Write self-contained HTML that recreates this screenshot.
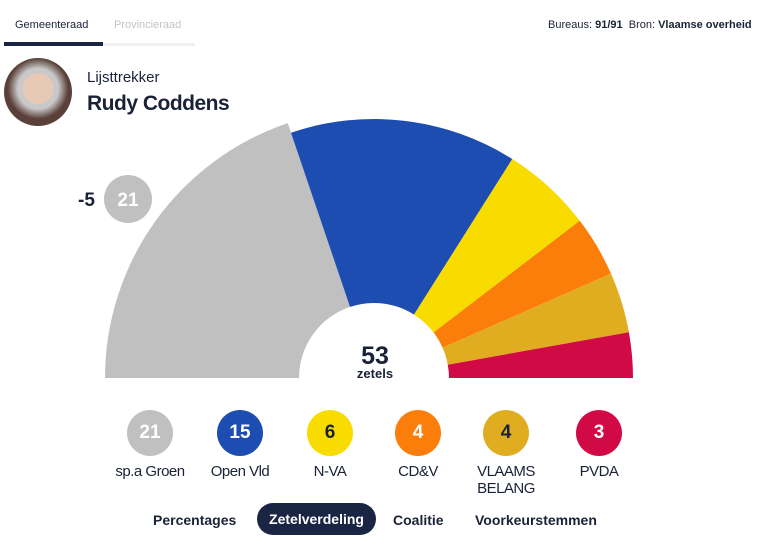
<!DOCTYPE html>
<html><head><meta charset="utf-8"><style>
body{margin:0;width:759px;height:558px;background:#fff;font-family:"Liberation Sans",sans-serif;overflow:hidden;position:relative;color:#1a2238}
.a{position:absolute;white-space:nowrap}
.c{position:absolute;width:46px;height:46px;border-radius:50%;text-align:center;line-height:46px;font-weight:bold;font-size:19px}
.l{position:absolute;width:100px;text-align:center;font-size:15px;line-height:17px;letter-spacing:-0.5px}
</style></head><body>
<div class="a" style="left:15px;top:19px;font-size:11px">Gemeenteraad</div>
<div class="a" style="left:114px;top:19px;font-size:11px;color:#c4c4c4">Provincieraad</div>
<div class="a" style="left:4px;top:42px;width:99px;height:4px;background:#1a2543"></div>
<div class="a" style="left:103px;top:43px;width:92px;height:3px;background:#f0f0f2"></div>
<div class="a" style="left:548px;top:19px;font-size:11px">Bureaus: <b>91/91</b> &nbsp;Bron: <b>Vlaamse overheid</b></div>
<div class="a" style="left:4px;top:58px;width:68px;height:68px;border-radius:50%;background:radial-gradient(circle at 50% 45%,#e8c9b5 0 30%,#c9c9c9 31% 40%,#5a4038 60%)"></div>
<div class="a" style="left:87px;top:69px;font-size:15px">Lijsttrekker</div>
<div class="a" style="left:87px;top:92px;font-size:21px;font-weight:bold;letter-spacing:-0.5px">Rudy Coddens</div>
<svg class="a" style="left:0;top:0" width="759" height="400">
<path d="M105,378 A269,269 0 0 1 287.8,123.1 L350,306.9 A75,75 0 0 0 299,378Z" fill="#c0c0c0"/>
<path d="M291,132.7 A259,259 0 0 1 512.3,159 L414,314.6 A75,75 0 0 0 350,306.9Z" fill="#1e4db1"/>
<path d="M512.3,159 A259,259 0 0 1 579.8,220.8 L433.6,332.5 A75,75 0 0 0 414,314.6Z" fill="#f8dc00"/>
<path d="M579.8,220.8 A259,259 0 0 1 611,273.6 L442.6,347.8 A75,75 0 0 0 433.6,332.5Z" fill="#fb7e0a"/>
<path d="M611,273.6 A259,259 0 0 1 628.9,332.2 L447.8,364.7 A75,75 0 0 0 442.6,347.8Z" fill="#e0ad21"/>
<path d="M628.9,332.2 A259,259 0 0 1 633,378 L449,378 A75,75 0 0 0 447.8,364.7Z" fill="#d10a45"/>
<circle cx="128" cy="199" r="24" fill="#c0c0c0"/>
<text x="128" y="206" text-anchor="middle" font-size="19" font-weight="bold" fill="#fff" font-family="Liberation Sans">21</text>
<text x="78" y="206" font-size="19" font-weight="bold" fill="#1a2238" font-family="Liberation Sans">-5</text>
<text x="375" y="364" text-anchor="middle" font-size="25" font-weight="bold" fill="#1a2238" font-family="Liberation Sans">53</text>
<text x="375" y="378" text-anchor="middle" font-size="13" font-weight="bold" fill="#1a2238" font-family="Liberation Sans">zetels</text>
</svg>
<div class="c" style="left:127px;top:410px;background:#c0c0c0;color:#fff">21</div>
<div class="c" style="left:217px;top:410px;background:#1e4db1;color:#fff">15</div>
<div class="c" style="left:307px;top:410px;background:#f8dc00;color:#1a2238">6</div>
<div class="c" style="left:395px;top:410px;background:#fb7e0a;color:#fff">4</div>
<div class="c" style="left:483px;top:410px;background:#e0ad21;color:#1a2238">4</div>
<div class="c" style="left:576px;top:410px;background:#d10a45;color:#fff">3</div>
<div class="l" style="left:100px;top:463px">sp.a Groen</div>
<div class="l" style="left:190px;top:463px">Open Vld</div>
<div class="l" style="left:280px;top:463px">N-VA</div>
<div class="l" style="left:368px;top:463px">CD&amp;V</div>
<div class="l" style="left:456px;top:463px">VLAAMS<br>BELANG</div>
<div class="l" style="left:549px;top:463px">PVDA</div>
<div class="a" style="left:153px;top:512px;font-size:14px;font-weight:bold">Percentages</div>
<div class="a" style="left:257px;top:503px;width:119px;height:32px;border-radius:16px;background:#1a2543;color:#fff;font-size:14px;font-weight:bold;text-align:center;line-height:32px">Zetelverdeling</div>
<div class="a" style="left:393px;top:512px;font-size:14px;font-weight:bold">Coalitie</div>
<div class="a" style="left:475px;top:512px;font-size:14px;font-weight:bold">Voorkeurstemmen</div>
</body></html>
